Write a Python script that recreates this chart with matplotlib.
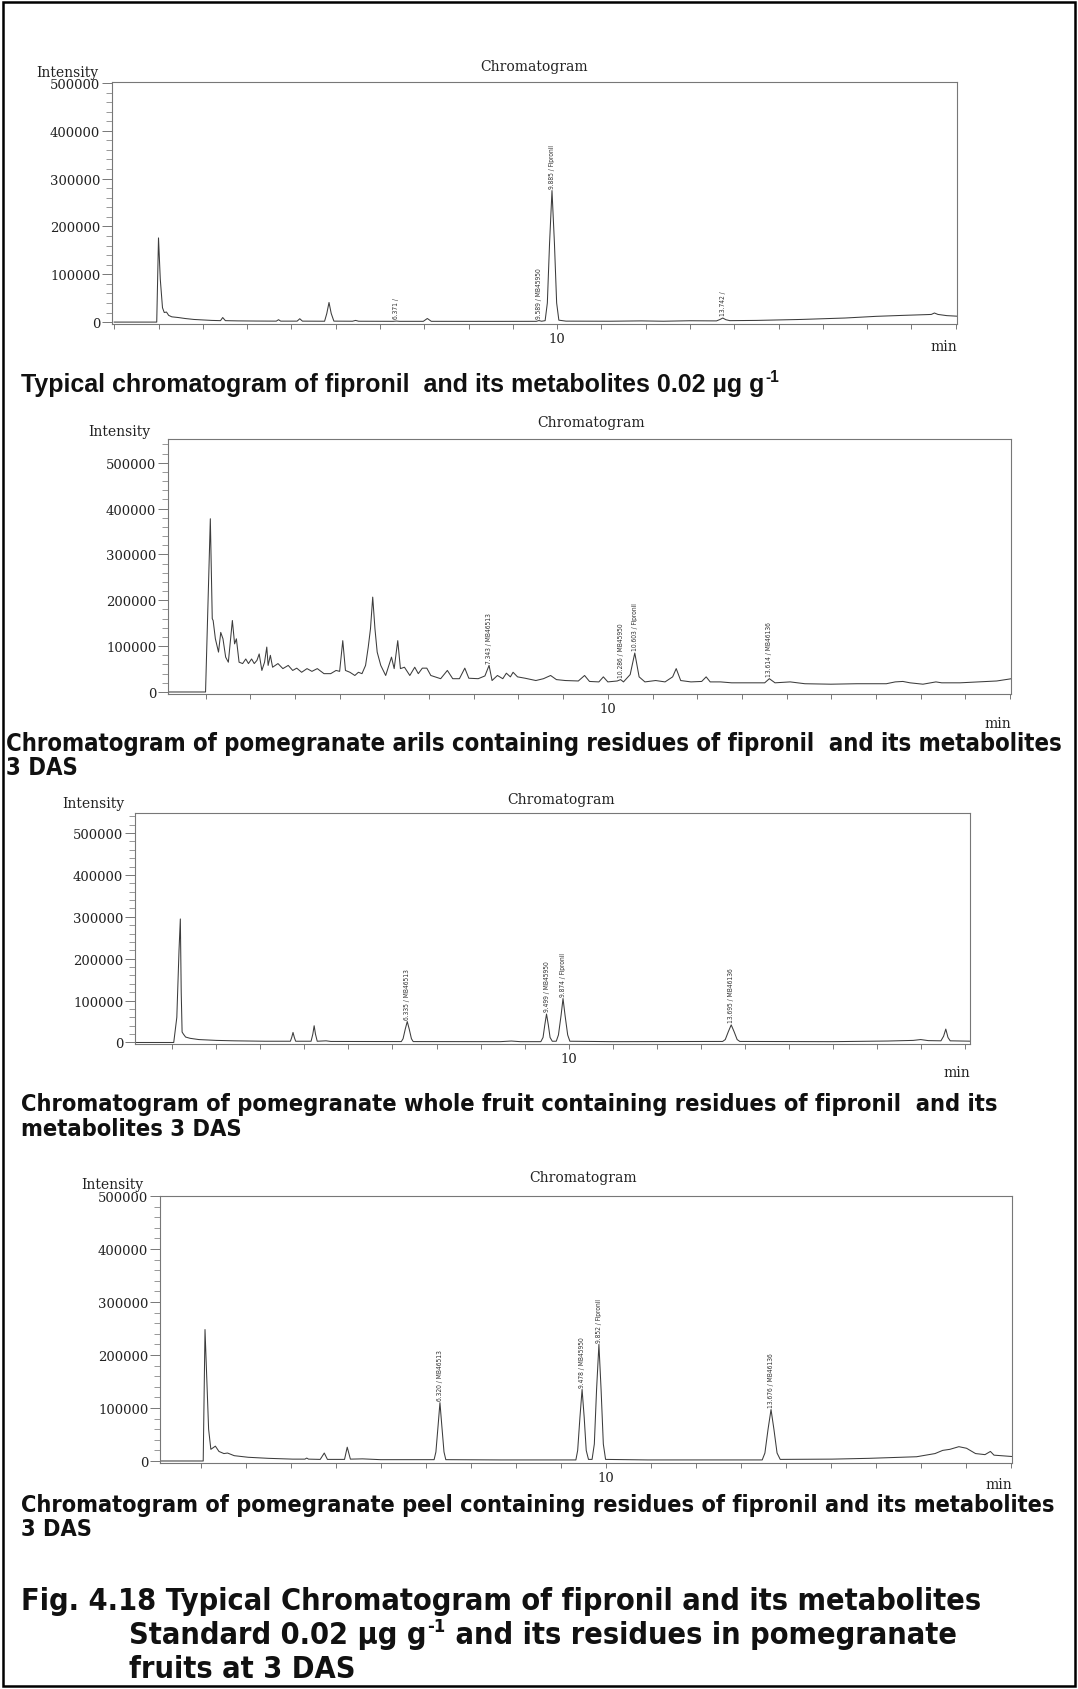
import numpy as np
import matplotlib
matplotlib.use("Agg")
import matplotlib.pyplot as plt
from matplotlib import font_manager as fm
from matplotlib.patches import Rectangle
from matplotlib.ticker import MultipleLocator, FixedLocator, FuncFormatter

W, H = 1078, 1690
SERIF = ["DejaVu Serif"]
ARIAL = ["Liberation Sans", "DejaVu Sans"]

# (retention time in min, intensity) vertices of each trace
std_trace = [
    (0.0, 0), (0.96, 0), (1.0, 176000), (1.04, 90000), (1.09, 30000), (1.13, 20000),
    (1.18, 21000), (1.23, 14000), (1.3, 11000), (1.45, 9500), (1.6, 7500), (1.8, 5500),
    (2.0, 4500), (2.2, 3500), (2.4, 3000), (2.45, 9500), (2.51, 3000), (2.8, 2500),
    (3.2, 2200), (3.66, 2000), (3.71, 5000), (3.76, 2000), (4.13, 2000), (4.19, 7000),
    (4.25, 2000), (4.75, 1800), (4.8, 18000), (4.85, 41000), (4.9, 18000), (4.96, 2000),
    (5.38, 1800), (5.45, 3500), (5.52, 1800), (6.3, 1600), (6.371, 2200), (6.44, 1600),
    (6.98, 1600), (7.07, 7500), (7.16, 1600), (8.5, 1500), (9.53, 1600), (9.589, 3200),
    (9.65, 1800), (9.73, 3000), (9.78, 40000), (9.83, 165000), (9.885, 275000),
    (9.94, 165000), (9.99, 40000), (10.04, 4000), (10.2, 2000), (11.2, 1800), (11.9, 2500),
    (12.4, 1800), (13.0, 2800), (13.6, 2500), (13.68, 5500), (13.742, 8500), (13.81, 5000),
    (13.9, 3000), (14.5, 3500), (15.5, 5500), (16.5, 8500), (17.2, 12000), (17.8, 14000),
    (18.3, 15500), (18.45, 16000), (18.52, 19000), (18.6, 16000), (18.8, 13500), (19.1, 12000),
]
arils_trace = [
    (0.0, 0), (1.0, 0), (1.107, 378000), (1.15, 160000), (1.17, 156000), (1.22, 116000),
    (1.29, 87000), (1.34, 130000), (1.39, 116000), (1.45, 76000), (1.51, 65000),
    (1.6, 156000), (1.65, 105000), (1.69, 116000), (1.75, 65000), (1.83, 62000),
    (1.9, 72000), (1.96, 62000), (2.03, 72000), (2.09, 62000), (2.15, 69000), (2.2, 83000),
    (2.26, 47000), (2.32, 65000), (2.37, 98000), (2.4, 58000), (2.45, 80000), (2.5, 54000),
    (2.62, 62000), (2.73, 51000), (2.85, 58000), (2.95, 47000), (3.04, 52000), (3.15, 43000),
    (3.27, 51000), (3.38, 45000), (3.5, 51000), (3.65, 40000), (3.8, 40000), (3.92, 47000),
    (4.0, 45000), (4.07, 112000), (4.13, 47000), (4.23, 43000), (4.34, 36000), (4.42, 43000),
    (4.5, 40000), (4.58, 58000), (4.64, 98000), (4.69, 138000), (4.74, 207000),
    (4.79, 138000), (4.84, 87000), (4.92, 58000), (5.03, 36000), (5.16, 76000),
    (5.22, 51000), (5.3, 112000), (5.36, 51000), (5.45, 54000), (5.57, 36000),
    (5.68, 54000), (5.76, 40000), (5.85, 52000), (5.95, 52000), (6.04, 36000),
    (6.26, 29000), (6.41, 47000), (6.53, 29000), (6.68, 29000), (6.8, 52000), (6.89, 30000),
    (7.1, 29000), (7.25, 35000), (7.343, 58000), (7.41, 25000), (7.53, 36000),
    (7.65, 29000), (7.73, 41000), (7.82, 33000), (7.88, 43000), (7.98, 33000),
    (8.15, 30000), (8.39, 25000), (8.56, 29000), (8.72, 36000), (8.85, 27000),
    (9.05, 25000), (9.34, 24000), (9.48, 36000), (9.59, 23000), (9.8, 22000), (9.9, 33000),
    (10.0, 22000), (10.21, 24000), (10.286, 27000), (10.35, 22000), (10.5, 38000),
    (10.603, 85000), (10.7, 33000), (10.83, 22000), (11.07, 25000), (11.28, 22000),
    (11.45, 33000), (11.53, 51000), (11.63, 25000), (11.86, 22000), (12.1, 23000),
    (12.2, 33000), (12.29, 22000), (12.52, 22000), (12.77, 20000), (13.18, 20000),
    (13.51, 20000), (13.614, 29000), (13.74, 20000), (14.08, 22000), (14.41, 18000),
    (14.99, 17000), (15.57, 18000), (16.23, 18000), (16.43, 22000), (16.6, 23000),
    (16.76, 20000), (17.05, 17000), (17.34, 22000), (17.47, 20000), (17.88, 20000),
    (18.29, 22000), (18.7, 24000), (19.1, 30000),
]
whole_trace = [
    (0.0, 0), (1.03, 0), (1.1, 60000), (1.15, 220000), (1.18, 295000), (1.2, 120000),
    (1.22, 25000), (1.25, 20000), (1.3, 13000), (1.4, 10000), (1.6, 7000), (2.0, 5000),
    (2.4, 4000), (3.1, 3000), (3.68, 3000), (3.71, 12000), (3.74, 24000), (3.77, 12000),
    (3.8, 3000), (4.15, 3000), (4.19, 20000), (4.22, 40000), (4.25, 20000), (4.29, 3000),
    (4.49, 4000), (4.6, 2500), (6.2, 2200), (6.24, 9000), (6.29, 32000), (6.335, 50000),
    (6.38, 32000), (6.43, 9000), (6.47, 2200), (8.45, 2000), (8.7, 3500), (8.9, 2000),
    (9.37, 2000), (9.42, 12000), (9.46, 42000), (9.499, 68000), (9.54, 42000),
    (9.58, 12000), (9.63, 3000), (9.72, 3000), (9.77, 18000), (9.83, 65000),
    (9.874, 105000), (9.92, 65000), (9.98, 18000), (10.03, 3000), (11.0, 2000),
    (13.5, 2500), (13.56, 7000), (13.63, 26000), (13.695, 42000), (13.76, 26000),
    (13.83, 7000), (13.89, 2500), (16.0, 2000), (17.25, 3500), (17.83, 5000), (18.0, 7000),
    (18.17, 4500), (18.46, 4000), (18.52, 15000), (18.57, 32000), (18.62, 12000),
    (18.67, 4000), (19.2, 3000),
]
peel_trace = [
    (0.0, 0), (1.06, 0), (1.1, 248000), (1.18, 60000), (1.23, 22000), (1.33, 28000),
    (1.41, 18000), (1.52, 14000), (1.6, 15000), (1.75, 10000), (2.06, 7000), (2.51, 5000),
    (3.05, 3500), (3.32, 3500), (3.36, 5500), (3.4, 3500), (3.66, 3000), (3.75, 15000),
    (3.82, 3000), (4.2, 3000), (4.26, 26000), (4.33, 3500), (4.6, 4000), (5.0, 2500),
    (6.19, 2500), (6.23, 17000), (6.28, 68000), (6.32, 110000), (6.36, 68000),
    (6.41, 17000), (6.45, 2500), (7.66, 2000), (9.34, 2000), (9.38, 20000), (9.43, 82000),
    (9.478, 135000), (9.525, 82000), (9.57, 20000), (9.62, 3000), (9.7, 3000),
    (9.75, 32000), (9.8, 135000), (9.852, 220000), (9.9, 135000), (9.95, 32000),
    (10.0, 3000), (10.93, 2000), (13.48, 2000), (13.54, 15000), (13.61, 60000),
    (13.676, 97000), (13.74, 60000), (13.81, 15000), (13.88, 3000), (15.03, 3500),
    (15.85, 5000), (16.91, 8000), (17.32, 14000), (17.49, 20000), (17.65, 22000),
    (17.85, 27000), (18.02, 24000), (18.22, 14000), (18.43, 12000), (18.55, 18000),
    (18.63, 11000), (19.1, 8000),
]

# peak annotations: retention time, printed label
std_peaks = [(6.371, "6.371 /"), (9.589, "9.589 / MB45950"),
             (9.885, "9.885 / Fipronil"), (13.742, "13.742 /")]
arils_peaks = [(7.343, "7.343 / MB46513"), (10.286, "10.286 / MB45950"),
               (10.603, "10.603 / Fipronil"), (13.614, "13.614 / MB46136")]
whole_peaks = [(6.335, "6.335 / MB46513"), (9.499, "9.499 / MB45950"),
               (9.874, "9.874 / Fipronil"), (13.695, "13.695 / MB46136")]
peel_peaks = [(6.320, "6.320 / MB46513"), (9.478, "9.478 / MB45950"),
              (9.852, "9.852 / Fipronil"), (13.676, "13.676 / MB46136")]


def narrow_font(bold):
    """Pick an installed condensed sans face, falling back to Liberation Sans."""
    prefs = ["Liberation Sans Narrow", "Arial Narrow", "DejaVu Sans", "Noto Sans",
             "Open Sans", "Roboto Condensed", "Roboto", "Lato", "Inter"]
    found = []
    for f in fm.fontManager.ttflist:
        low = f.name.lower()
        cond = (str(f.stretch) in ("condensed", "semi-condensed", "extra-condensed")
                or "narrow" in low or "condensed" in low)
        if not cond or f.style != "normal":
            continue
        try:
            wt = int(f.weight)
        except (TypeError, ValueError):
            wt = 700 if "bold" in str(f.weight) else 400
        if bold and wt < 600:
            continue
        if not bold and not (350 <= wt <= 500):
            continue
        rank = next((i for i, p in enumerate(prefs) if f.name.startswith(p)), len(prefs))
        extra = 0 if str(f.stretch) == "condensed" else 1
        found.append((rank, extra, f.fname))
    if found:
        found.sort()
        return fm.FontProperties(fname=found[0][2])
    return fm.FontProperties(family="Liberation Sans", weight="bold" if bold else "normal")


NARROW_BOLD = narrow_font(True)
NARROW_REG = narrow_font(False)


def px_rect(left, top, right, bottom):
    return [left / W, 1 - bottom / H, (right - left) / W, (bottom - top) / H]


def ftext(fig, x, y, s, **kw):
    return fig.text(x / W, 1 - y / H, s, **kw)


def draw_panel(fig, trace, peaks, box, xlim, ylim, title_xy, inten_xy, min_y):
    ax = fig.add_axes(px_rect(*box))
    t = np.array([p[0] for p in trace])
    v = np.array([p[1] for p in trace])
    ax.plot(t, v, color="#3c3c3c", lw=0.75)
    ax.set_xlim(*xlim)
    ax.set_ylim(*ylim)
    for sp in ax.spines.values():
        sp.set_color("#777777")
        sp.set_linewidth(0.8)

    ax.yaxis.set_major_locator(MultipleLocator(100000))
    ax.yaxis.set_minor_locator(MultipleLocator(20000))
    ax.yaxis.set_major_formatter(FuncFormatter(lambda val, pos: f"{int(round(val))}"))
    ax.xaxis.set_major_locator(FixedLocator([10]))
    ax.xaxis.set_minor_locator(MultipleLocator(1))
    ax.xaxis.set_major_formatter(FuncFormatter(lambda val, pos: f"{int(val)}"))
    ax.tick_params(axis="y", which="major", length=7.5, width=0.7, color="#777777",
                   pad=1, labelsize=9.5, labelcolor="#222222")
    ax.tick_params(axis="y", which="minor", length=4, width=0.6, color="#888888")
    ax.tick_params(axis="x", which="both", length=3.5, width=0.7, color="#777777",
                   pad=2, labelsize=9.5, labelcolor="#222222")
    for lab in ax.get_xticklabels() + ax.get_yticklabels():
        lab.set_family(SERIF)

    for rt, label in peaks:
        y = np.interp(rt, t, v)
        ax.annotate(label, (rt, y), xytext=(0, 2), textcoords="offset points",
                    rotation=90, ha="center", va="bottom", fontproperties=NARROW_REG,
                    fontsize=4.8, color="#333333")

    ftext(fig, *title_xy, "Chromatogram", ha="center", va="center",
          fontsize=10, family=SERIF, color="#222222")
    ftext(fig, *inten_xy, "Intensity", ha="left", va="center",
          fontsize=10, family=SERIF, color="#222222")
    ftext(fig, box[2], min_y, "min", ha="right", va="center",
          fontsize=10, family=SERIF, color="#222222")
    return ax


def fit_text(fig, renderer, x, y, s, width, **kw):
    txt = ftext(fig, x, y, s, ha="left", va="center", **kw)
    w = txt.get_window_extent(renderer).width
    txt.set_fontsize(txt.get_fontsize() * width / w)
    return txt


def add_after(fig, renderer, prev, s, fontsize, dy=0.0, **kw):
    bb = prev.get_window_extent(renderer)
    y_mid = (bb.y0 + bb.y1) / 2
    txt = fig.text((bb.x1 + 0.5) / W, (y_mid + dy) / H, s, ha="left", va="center", **kw)
    txt.set_fontsize(fontsize)
    return txt


fig = plt.figure(figsize=(W / 100, H / 100), dpi=100)
fig.patch.set_facecolor("white")

draw_panel(fig, std_trace, std_peaks, (112, 83, 957, 325), (-0.05, 19.03),
           (-4000, 502000), (534, 67), (36, 73), 347)
draw_panel(fig, arils_trace, arils_peaks, (168, 440, 1011, 695), (0.16, 19.02),
           (-4400, 552000), (591, 423), (88, 432), 724)
draw_panel(fig, whole_trace, whole_peaks, (135, 814, 970, 1045), (0.15, 19.12),
           (-3600, 548000), (561, 800), (62, 804), 1073)
draw_panel(fig, peel_trace, peel_peaks, (160, 1197, 1012, 1464), (0.1, 19.03),
           (-3800, 500000), (583, 1178), (81, 1185), 1485)

r = fig.canvas.get_renderer()
ink = "#111111"

# captions under each chromatogram
c1 = fit_text(fig, r, 21, 385, "Typical chromatogram of fipronil  and its metabolites 0.02 \u00b5g g",
              745, family=ARIAL, weight="bold", color=ink)
add_after(fig, r, c1, "-1", c1.get_fontsize() * 0.62, dy=7,
          family=ARIAL, weight="bold", color=ink)

c2 = fit_text(fig, r, 6, 744, "Chromatogram of pomegranate arils containing residues of fipronil  and its metabolites",
              1054, fontproperties=NARROW_BOLD, color=ink)
ftext(fig, 6, 768, "3 DAS", ha="left", va="center", fontproperties=NARROW_BOLD,
      fontsize=c2.get_fontsize(), color=ink)

c3 = fit_text(fig, r, 21, 1105, "Chromatogram of pomegranate whole fruit containing residues of fipronil  and its",
              969, fontproperties=NARROW_BOLD, color=ink)
ftext(fig, 21, 1129, "metabolites 3 DAS", ha="left", va="center", fontproperties=NARROW_BOLD,
      fontsize=c3.get_fontsize(), color=ink)

c4 = fit_text(fig, r, 21, 1506, "Chromatogram of pomegranate peel containing residues of fipronil and its metabolites",
              1030, fontproperties=NARROW_BOLD, color=ink)
ftext(fig, 21, 1530, "3 DAS", ha="left", va="center", fontproperties=NARROW_BOLD,
      fontsize=c4.get_fontsize(), color=ink)

# figure title
t1 = fit_text(fig, r, 21, 1602, "Fig. 4.18 Typical Chromatogram of fipronil and its metabolites",
              958, fontproperties=NARROW_BOLD, color=ink)
fs = t1.get_fontsize()
t2 = ftext(fig, 129, 1636, "Standard 0.02 \u00b5g g", ha="left", va="center",
           fontproperties=NARROW_BOLD, fontsize=fs, color=ink)
sup = add_after(fig, r, t2, "-1", fs * 0.6, dy=9, fontproperties=NARROW_BOLD, color=ink)
add_after(fig, r, sup, " and its residues in pomegranate", fs, dy=-9,
          fontproperties=NARROW_BOLD, color=ink)
ftext(fig, 129, 1670, "fruits at 3 DAS", ha="left", va="center", fontproperties=NARROW_BOLD,
      fontsize=fs, color=ink)

# page frame
fig.add_artist(Rectangle((3 / W, 3 / H), (W - 6) / W, (H - 6) / H, transform=fig.transFigure,
                         fill=False, edgecolor="black", linewidth=1.8))

fig.savefig("out.png", dpi=100, facecolor="white")
